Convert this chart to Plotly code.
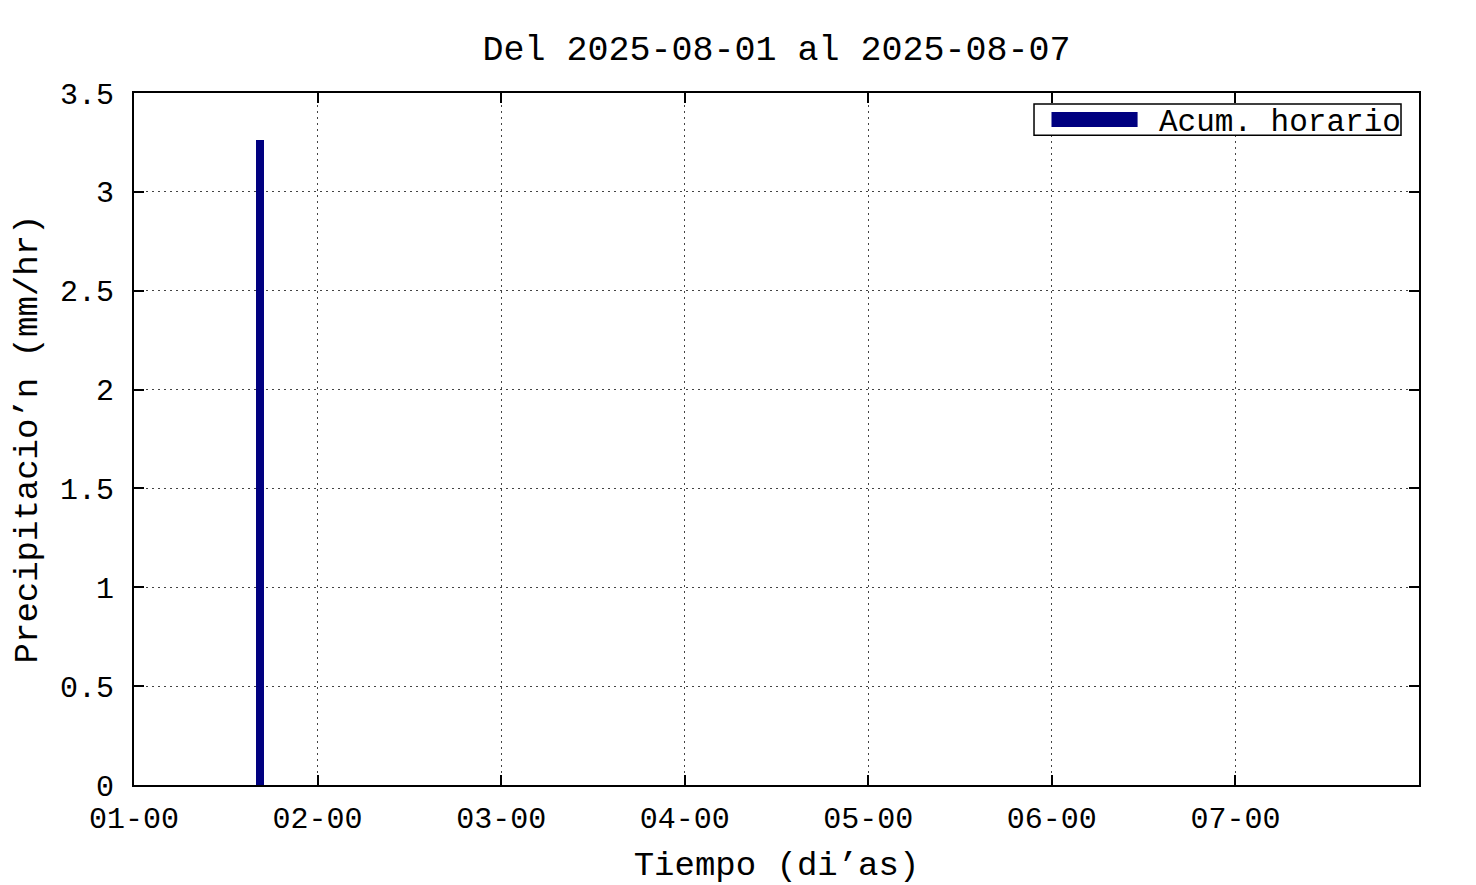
import plotly.graph_objects as go

# ---- data ----
hour_centers = ["2025-08-01 16:30"]
precip_mm_hr = [3.26]
x_tick_vals = ["2025-08-01", "2025-08-02", "2025-08-03", "2025-08-04",
               "2025-08-05", "2025-08-06", "2025-08-07"]
x_tick_text = ["01-00", "02-00", "03-00", "04-00", "05-00", "06-00", "07-00"]
y_tick_vals = [0, 0.5, 1, 1.5, 2, 2.5, 3, 3.5]
y_tick_text = ["0", "0.5", "1", "1.5", "2", "2.5", "3", "3.5"]
series_name = "Acum. horario"
title_text = "Del 2025-08-01 al 2025-08-07"

FONT = "Liberation Mono, Courier New, monospace"
NAVY = "#000080"

# page has an 8px body margin: figure occupies page pixels 8..1476 x 8..885
W, H = 1468, 877

fig = go.Figure()
fig.add_trace(go.Bar(
    x=hour_centers, y=precip_mm_hr, width=[3600000] * len(hour_centers),
    marker=dict(color=NAVY, line=dict(width=0)), name=series_name,
    showlegend=False,
))

axis_common = dict(
    showline=True, linecolor="black", linewidth=2, mirror="ticks",
    ticks="inside", ticklen=10, tickwidth=2, tickcolor="black",
    showgrid=True, gridcolor="#444", gridwidth=1, griddash="2px,4px",
    zeroline=False, tickfont=dict(family=FONT, size=30, color="black"),
)

fig.update_layout(
    width=W, height=H,
    margin=dict(l=126, r=57, t=85, b=100),
    paper_bgcolor="white", plot_bgcolor="white",
    font=dict(family=FONT, size=30, color="black"),
    title=dict(text=title_text, x=0.5, xref="paper", y=1 - 40 / H,
               yref="container", yanchor="middle", xanchor="center",
               font=dict(family=FONT, size=35, color="black")),
    bargap=0,
    xaxis=dict(
        type="date", range=["2025-08-01 00:00", "2025-08-08 00:00"],
        tickvals=x_tick_vals, ticktext=x_tick_text,
        ticklabelstandoff=5,
        title=dict(text="Tiempo (di’as)", standoff=20,
                   font=dict(family=FONT, size=34, color="black")),
        automargin=False, **axis_common,
    ),
    yaxis=dict(
        range=[0, 3.5], tickvals=y_tick_vals, ticktext=y_tick_text,
        ticklabelstandoff=12,
        title=dict(text="Precipitacio’n (mm/hr)", standoff=12,
                   font=dict(family=FONT, size=34, color="black")),
        automargin=False, **axis_common,
    ),
)

# legend box (gnuplot-style key)
fig.add_shape(type="rect", xref="paper", yref="paper",
              x0=0.7004, x1=0.986, y0=0.939, y1=0.984,
              line=dict(color="black", width=1.5), fillcolor="white", layer="above")
fig.add_shape(type="rect", xref="paper", yref="paper",
              x0=0.714, x1=0.781, y0=0.951, y1=0.9725,
              line=dict(width=0), fillcolor=NAVY, layer="above")
fig.add_annotation(text=series_name, xref="paper", yref="paper",
                   x=0.796, y=0.9575, xanchor="left", yanchor="middle",
                   showarrow=False, font=dict(family=FONT, size=31, color="black"))

fig.write_html("out.html")
